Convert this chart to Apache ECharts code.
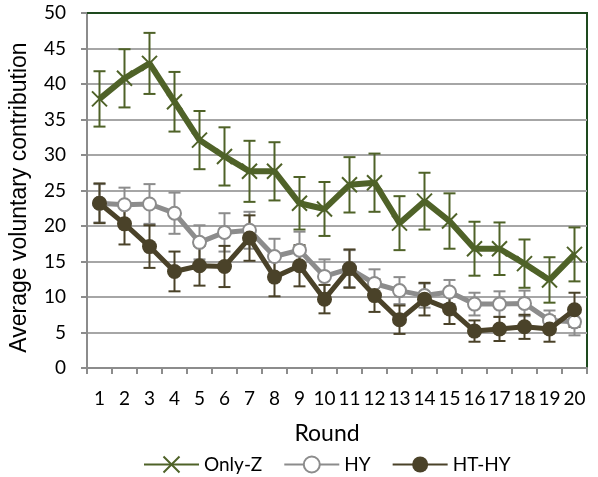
<!DOCTYPE html>
<html>
<head>
<meta charset="utf-8">
<script src="https://cdn.jsdelivr.net/npm/echarts@6/dist/echarts.min.js"></script>
<style>
html,body{margin:0;padding:0;background:#fff}
#chart{width:598px;height:477px}
</style>
</head>
<body>
<div id="chart"></div>
<script>
var rounds = ['1','2','3','4','5','6','7','8','9','10','11','12','13','14','15','16','17','18','19','20']
var yTicks = [0, 50, 5]

var onlyZ = [37.9, 40.8, 42.9, 37.5, 32.1, 29.8, 27.7, 27.7, 23.2, 22.4, 25.8, 26.1, 20.4, 23.5, 20.7, 16.8, 16.8, 14.7, 12.4, 16.0]
var onlyZErr = [3.9, 4.1, 4.3, 4.2, 4.1, 4.1, 4.3, 4.1, 3.7, 3.8, 3.9, 4.1, 3.8, 4.0, 3.9, 3.8, 3.7, 3.4, 3.2, 3.8]

var hy = [23.2, 23.0, 23.1, 21.8, 17.7, 19.1, 19.4, 15.7, 16.6, 12.9, 14.0, 11.9, 10.9, 10.2, 10.7, 9.0, 9.0, 9.1, 6.7, 6.5]
var hyErr = [2.7, 2.4, 2.8, 2.9, 2.4, 2.7, 2.6, 2.5, 2.6, 2.4, 2.6, 2.0, 1.9, 1.7, 1.7, 1.6, 1.8, 1.8, 1.4, 1.9]

var htHy = [23.2, 20.3, 17.1, 13.6, 14.4, 14.3, 18.3, 12.8, 14.4, 9.7, 14.0, 10.2, 6.8, 9.7, 8.3, 5.2, 5.5, 5.8, 5.5, 8.2]
var htHyErr = [2.8, 2.9, 3.0, 2.8, 2.8, 2.9, 3.2, 2.7, 2.9, 2.0, 2.7, 2.3, 2.0, 2.3, 2.1, 1.5, 1.7, 1.7, 1.8, 2.4]

var green = '#4f6228'
var gray = '#8c8c8c'
var dark = '#4a4229'
var font = 'Lato, "Open Sans", sans-serif'

function errData(vals, errs){
    return vals.map(function(v, i){ return [i, v - errs[i], v + errs[i]] })
}

function errSeries(vals, errs, color, width){
    return {
        type: 'custom',
        silent: true,
        z: 1,
        data: errData(vals, errs),
        encode: { x: 0, y: [1, 2] },
        renderItem: function(params, api){
            var lo = api.coord([api.value(0), api.value(1)])
            var hi = api.coord([api.value(0), api.value(2)])
            var cap = 6
            var style = { stroke: color, lineWidth: width, fill: null }
            return {
                type: 'group',
                children: [
                    { type: 'line', shape: { x1: lo[0], y1: lo[1], x2: hi[0], y2: hi[1] }, style: style },
                    { type: 'line', shape: { x1: lo[0] - cap, y1: lo[1], x2: lo[0] + cap, y2: lo[1] }, style: style },
                    { type: 'line', shape: { x1: hi[0] - cap, y1: hi[1], x2: hi[0] + cap, y2: hi[1] }, style: style }
                ]
            }
        }
    }
}

var chart = echarts.init(document.getElementById('chart'))
chart.setOption({
    animation: false,
    textStyle: { fontFamily: font },
    grid: {
        left: 85, right: 11, top: 13, bottom: 109,
        show: true,
        borderColor: '#1e4a1e',
        borderWidth: 2
    },
    legend: {
        top: 450,
        left: 138,
        itemWidth: 55,
        itemHeight: 20,
        itemGap: 21,
        textStyle: { fontSize: 19, color: '#000', fontFamily: font },
        data: ['Only-Z', 'HY', 'HT-HY']
    },
    xAxis: [{
        type: 'category',
        data: rounds,
        name: 'Round',
        nameLocation: 'middle',
        nameGap: 54,
        nameTextStyle: { fontSize: 23, color: '#000', padding: [0, 20, 0, 0] },
        axisLine: { lineStyle: { color: '#8c8c8c', width: 2 } },
        axisTick: { show: true, alignWithLabel: false, length: 6, lineStyle: { color: '#8c8c8c', width: 2 } },
        axisLabel: { interval: 0, fontSize: 19, color: '#000', margin: 21 },
        splitLine: { show: false }
    }, {
        type: 'category',
        data: rounds,
        position: 'top',
        axisLine: { lineStyle: { color: '#1e4a1e', width: 2 } },
        axisTick: { show: false },
        axisLabel: { show: false },
        splitLine: { show: false }
    }],
    yAxis: {
        type: 'value',
        min: yTicks[0],
        max: yTicks[1],
        interval: yTicks[2],
        name: 'Average voluntary contribution',
        nameLocation: 'middle',
        nameGap: 56,
        nameTextStyle: { fontSize: 23, color: '#000', fontFamily: '"Liberation Sans", Arial, sans-serif', padding: [0, 14, 0, 0] },
        axisLine: { show: true, lineStyle: { color: '#8c8c8c', width: 2 } },
        axisTick: { show: true, length: 6, lineStyle: { color: '#8c8c8c', width: 2 } },
        axisLabel: { fontSize: 19, color: '#000', margin: 21 },
        splitLine: { show: true, lineStyle: { color: '#a6a6a6', width: 2 } }
    },
    series: [
        errSeries(onlyZ, onlyZErr, green, 2),
        errSeries(hy, hyErr, gray, 2),
        errSeries(htHy, htHyErr, dark, 2),
        {
            name: 'HY',
            type: 'line',
            data: hy,
            z: 3,
            symbol: 'emptyCircle',
            symbolSize: 13,
            lineStyle: { color: gray, width: 5 },
            itemStyle: { color: gray, borderColor: gray, borderWidth: 2 }
        },
        {
            name: 'HT-HY',
            type: 'line',
            data: htHy,
            z: 4,
            symbol: 'circle',
            symbolSize: 15,
            lineStyle: { color: dark, width: 5 },
            itemStyle: { color: dark }
        },
        {
            name: 'Only-Z',
            type: 'line',
            data: onlyZ,
            z: 5,
            symbol: 'path://M0,0L10,10M10,0L0,10',
            symbolSize: 15,
            lineStyle: { color: green, width: 6 },
            itemStyle: { color: green, borderColor: green, borderWidth: 2 }
        }
    ]
})
</script>
</body>
</html>
